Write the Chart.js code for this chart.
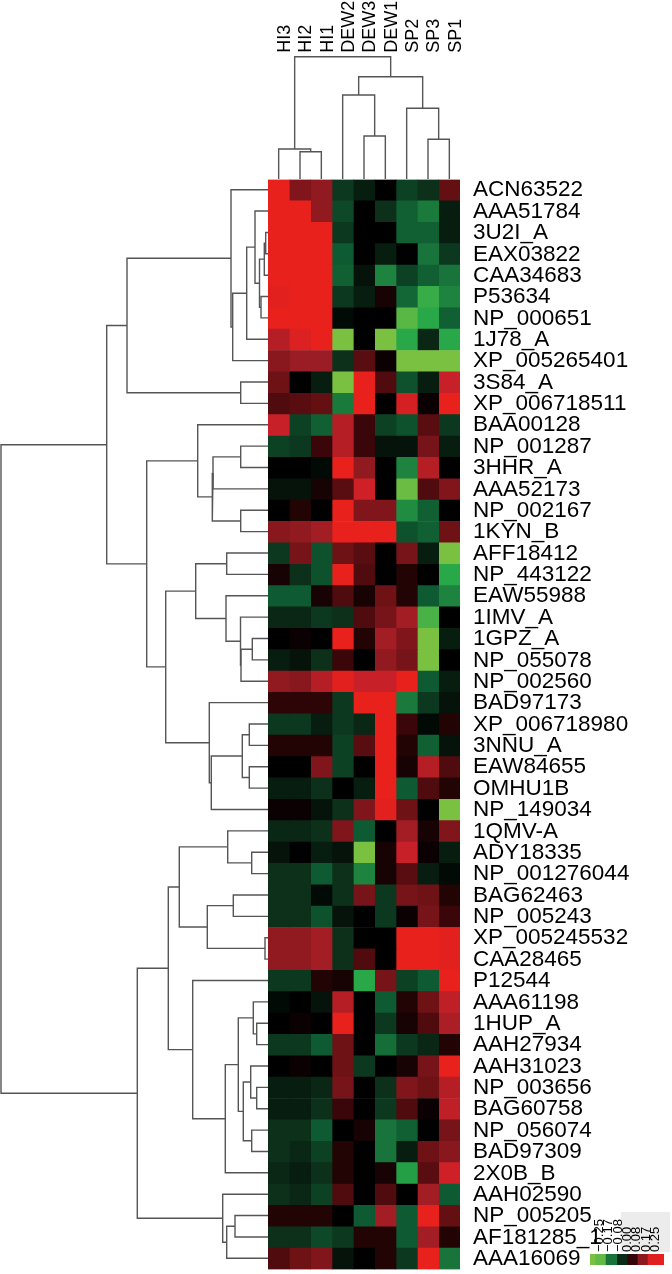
<!DOCTYPE html>
<html><head><meta charset="utf-8">
<script src="https://cdn.jsdelivr.net/npm/chart.js@4.4.1/dist/chart.umd.min.js"></script>
<style>
html,body{margin:0;padding:0;background:#fff;width:672px;height:1274px;overflow:hidden;position:relative;}
canvas{position:absolute;}
#keybg{position:absolute;left:621px;top:1212px;width:49px;height:40px;background:#ececec;}
</style></head><body>
<div id="keybg"></div>
<canvas id="rowDendro" width="290" height="1130" style="left:0;top:159px"></canvas>
<canvas id="colDendro" width="232" height="182" style="left:248px;top:0"></canvas>
<canvas id="heat" width="424" height="1130" style="left:248px;top:159px"></canvas>
<canvas id="key" width="102" height="74" style="left:570px;top:1196px"></canvas>
<script>
const colLabels = ['HI3','HI2','HI1','DEW2','DEW3','DEW1','SP2','SP3','SP1'];
const rowLabels = ['ACN63522','AAA51784','3U2I_A','EAX03822','CAA34683','P53634','NP_000651','1J78_A','XP_005265401','3S84_A',
'XP_006718511','BAA00128','NP_001287','3HHR_A','AAA52173','NP_002167','1KYN_B','AFF18412','NP_443122','EAW55988',
'1IMV_A','1GPZ_A','NP_055078','NP_002560','BAD97173','XP_006718980','3NNU_A','EAW84655','OMHU1B','NP_149034',
'1QMV-A','ADY18335','NP_001276044','BAG62463','NP_005243','XP_005245532','CAA28465','P12544','AAA61198','1HUP_A',
'AAH27934','AAH31023','NP_003656','BAG60758','NP_056074','BAD97309','2X0B_B','AAH02590','NP_005205','AF181285_1','AAA16069'];

// cell values per column (row order as rowLabels)
const valHI3 = [.25,.25,.25,.25,.25,.24,.25,.18,.13,.10, .07,.20,-.07,0,-.02,0,.13,-.06,.02,-.10, -.04,0,-.03,.14,.04,-.06,.03,0,-.03,.01, -.04,-.02,-.05,-.05,-.05,.14,.14,-.06,-.01,0, -.06,0,-.03,-.03,-.05,-.05,-.04,-.05,.03,-.05, .07];
const valHI2 = [.12,.25,.25,.25,.25,.25,.25,.23,.15,0, .08,-.07,-.06,0,-.02,.03,.14,.11,-.05,-.10, -.04,.01,-.02,.13,.04,-.06,.03,0,-.03,.01, -.04,0,-.05,-.05,-.05,.14,.14,-.06,0,.01, -.06,.01,-.03,-.03,-.05,-.04,-.03,-.04,.03,-.05, .10];
const valHI1 = [.14,.14,.25,.25,.25,.25,.25,.25,.15,-.03, .09,-.11,.05,-.01,.02,0,.16,-.09,-.09,.02, -.06,0,-.05,.18,.04,-.03,.03,.12,-.05,-.02, -.05,-.03,-.10,-.01,-.09,.16,.16,.03,-.02,0, -.10,0,-.04,-.05,-.10,-.07,-.05,-.07,.03,-.08, .12];
const valDEW2 = [-.06,-.08,-.06,-.10,-.11,-.06,-.01,-.25,-.05,-.25, -.15,.18,.18,.25,.08,.25,.25,.10,.25,.07, -.05,.25,.05,.24,-.06,-.06,-.07,-.07,0,-.05, .12,-.02,-.05,-.05,-.02,-.05,-.05,.02,.18,.25, .10,.10,.11,.05,0,.03,.03,.07,0,-.06, -.02];
const valDEW3 = [-.03,0,0,0,-.02,-.03,0,0,.08,.25, .25,.05,.05,.14,.21,.12,.25,.08,.07,.02, .07,.03,0,.20,.25,-.04,.08,0,-.03,.12, -.10,-.25,-.16,.11,0,0,.07,-.20,0,0, 0,-.06,0,0,.02,0,0,0,-.10,.03, 0];
const valDEW1 = [0,-.05,0,-.03,-.16,.02,0,-.25,.01,.07, 0,-.07,-.02,0,0,.12,.25,0,0,.10, .11,.16,.14,.20,.25,.25,.25,.25,.25,.24, 0,.02,.02,-.06,-.06,0,0,.11,-.10,-.06, -.13,0,-.05,-.06,-.14,-.14,.02,.07,.16,.03, .03];
const valSP2 = [-.07,-.11,-.11,0,-.07,-.12,-.23,-.20,-.25,-.09, .22,-.09,-.02,-.16,-.24,-.17,-.09,.11,.03,.03, .16,.12,.11,.25,-.15,.05,.03,.02,-.10,.10, .16,.20,.08,.11,.01,.25,.25,-.07,.03,.02, -.06,.02,.12,.07,-.11,-.03,-.19,0,-.10,-.10, -.06];
const valSP3 = [-.05,-.15,-.11,-.14,-.11,-.21,-.20,-.04,-.25,-.03, .01,.08,.11,.18,.07,-.11,-.11,-.03,0,-.10, -.22,-.25,-.25,-.10,-.06,-.01,-.11,.18,.07,0, .02,.01,-.03,.10,.11,.25,.25,-.10,.10,.07, -.04,.11,.10,.01,0,.10,.08,.16,.25,.16, .25];
const valSP1 = [.09,-.03,-.03,-.06,-.14,-.16,-.11,-.20,-.25,.20, .25,-.06,-.03,0,.12,0,.10,-.25,-.20,-.16, 0,-.03,0,-.03,-.02,.03,-.02,.07,.03,-.25, .12,-.03,-.01,.03,.05,.24,.24,.25,.19,.17, .03,.25,.18,.19,.11,.13,.21,-.10,.09,.03, -.14];

// row dendrogram (hclust style merge: negative = leaf, positive = earlier merge)
const rowMergeA = [-3,1,-6,2,-2,5,6,-1,-10,8, -13,11,-16,12,-12,-18,-22,17,-21,-20, 16,-26,-28,22,24,-25,21,15,10,-32, -31,-34,-36,32,31,-40,-39,-43,-42,-45, 39,37,42,-38,35,-49,46,-48,45,29];
const rowMergeB = [-4,-5,-7,3,4,-8,-9,7,-11,9, -14,-15,-17,13,14,-19,-23,-24,18,19, 20,-27,-29,23,-30,25,26,27,28,-33, 30,-35,-37,33,34,-41,36,-44,38,-46, 40,41,-47,43,44,-50,-51,47,48,49];
const rowMergeH = [.023,.037,.07,.085,.13,.213,.353,.37,.273,1.41, .273,.55,.273,.557,.703,.413,.157,.27,.275,.42, .723,.187,.187,.257,.567,.587,1.023,1.213,1.613,.163, .403,.347,.03,.607,.887,.113,.147,.113,.173,.163, .247,.297,.427,.753,.997,.33,.413,.453,1.307,2.67];

// column dendrogram
const colMergeA = [-2,-1,-5,-4,-8,-7,4,2];
const colMergeB = [-3,1,-6,3,-9,5,6,7];
const colMergeH = [.273,.30,.43,.84,.397,.707,1.023,1.223];

// colour key
const keyTicks = [-0.25,-0.17,-0.08,0,0.08,0.17,0.25];
const keyBins = [-0.325,-0.28,-0.19,-0.09,0,0.09,0.18,0.29,0.325];

const colValues = [valHI3,valHI2,valHI1,valDEW2,valDEW3,valDEW1,valSP2,valSP3,valSP1];

const posStops = [[0,[0,0,0]],[0.05,[58,6,9]],[0.1,[110,18,22]],[0.15,[154,28,36]],[0.2,[200,32,40]],[0.25,[232,33,28]]];
const negStops = [[0,[0,0,0]],[0.05,[12,48,26]],[0.1,[14,90,50]],[0.15,[26,122,60]],[0.2,[40,168,72]],[0.25,[122,193,66]]];
function colorFor(v){
  const st = v >= 0 ? posStops : negStops;
  const a = Math.min(Math.abs(v), 0.25);
  for (let i=1;i<st.length;i++){
    if (a <= st[i][0]){
      const t = (a - st[i-1][0])/(st[i][0]-st[i-1][0]);
      const c = st[i-1][1].map((x,k)=>Math.round(x + (st[i][1][k]-x)*t));
      return 'rgb('+c.join(',')+')';
    }
  }
  return 'rgb('+st[st.length-1][1].join(',')+')';
}

function dendro(mA, mB, mH){
  const pos = [], segs = [];
  const P = r => r < 0 ? -r-1 : pos[r-1];
  const H = r => r < 0 ? 0 : mH[r-1];
  for (let k=0;k<mA.length;k++){
    const a = mA[k], b = mB[k], h = mH[k];
    const pa = P(a), pb = P(b);
    pos.push((pa+pb)/2);
    segs.push([[pa,H(a)],[pa,h],[pb,h],[pb,H(b)]]);
  }
  return segs;
}
const lineStyle = {showLine:true, pointRadius:0, borderColor:'#555555', borderWidth:1.4, tension:0, clip:false, fill:false};
const noPlug = {legend:{display:false}, tooltip:{enabled:false}};

// row dendrogram
new Chart(document.getElementById('rowDendro'), {
  type:'scatter',
  data:{datasets: dendro(rowMergeA,rowMergeB,rowMergeH).map(s => Object.assign({data:s.map(p=>({x:p[1], y:p[0]}))}, lineStyle))},
  options:{responsive:false, animation:false, plugins:noPlug,
    layout:{padding:{left:1,right:22,top:20,bottom:20}},
    scales:{x:{type:'linear', min:0, max:2.67, reverse:true, display:false},
            y:{type:'linear', min:-0.5, max:rowLabels.length-0.5, reverse:true, display:false}}}
});

// column dendrogram with column labels
new Chart(document.getElementById('colDendro'), {
  type:'scatter',
  data:{datasets: dendro(colMergeA,colMergeB,colMergeH).map(s => Object.assign({data:s.map(p=>({x:p[0], y:p[1]}))}, lineStyle))},
  options:{responsive:false, animation:false, plugins:noPlug,
    layout:{padding:{left:20,right:20,top:0,bottom:3}},
    scales:{x:{type:'linear', min:-0.5, max:colLabels.length-0.5, display:false},
            y:{type:'linear', min:0, max:1.223, display:false},
            lab:{type:'category', labels:colLabels, position:'top', offset:true,
                 grid:{display:false, drawTicks:false}, border:{display:false},
                 ticks:{autoSkip:false, minRotation:90, maxRotation:90, padding:4, labelOffset:28, color:'#000',
                        font:{family:'Liberation Sans', size:18}},
                 afterFit(s){ s.height = 56.7; }}}}
});

// heatmap
const heatCanvas = document.getElementById('heat');
function heatConfig(){
  return {
  type:'bar',
  data:{labels:rowLabels,
    datasets: colLabels.map((c,j)=>({label:c, data: rowLabels.map(()=>[j,j+1]),
      backgroundColor: colValues[j].map(colorFor), borderWidth:0,
      barPercentage:1, categoryPercentage:1, grouped:false}))},
  options:{indexAxis:'y', responsive:false, animation:false, plugins:noPlug,
    layout:{padding:{left:20,right:0,top:20,bottom:20}},
    scales:{x:{type:'linear', min:0, max:colLabels.length, display:false},
            y:{type:'category', position:'right', grid:{display:false, drawTicks:false}, border:{display:false},
               ticks:{autoSkip:false, padding:13, color:'#000', font:{family:'Liberation Sans', size:22.5}},
               afterFit(s){ s.width = 212; }}}}
  };
}
let heat = new Chart(heatCanvas, heatConfig());
{
  const ca = heat.chartArea;
  const extraTop = ca.top, extraBot = heatCanvas.height - ca.bottom;
  heat.destroy();
  heatCanvas.height = Math.round(extraTop + 1090 + extraBot);
  heatCanvas.style.top = (179 - extraTop) + 'px';
  heat = new Chart(heatCanvas, heatConfig());
}

// colour key
const keyColors = [];
for (let i=0;i<keyBins.length-1;i++) keyColors.push(colorFor((keyBins[i]+keyBins[i+1])/2));
new Chart(document.getElementById('key'), {
  type:'bar',
  data:{labels:['key'],
    datasets: keyColors.map((c,i)=>({data:[[keyBins[i],keyBins[i+1]]], backgroundColor:c, borderWidth:0,
      barPercentage:1, categoryPercentage:1, grouped:false}))},
  options:{indexAxis:'y', responsive:false, animation:false, plugins:noPlug,
    layout:{padding:{left:20,right:8,top:0,bottom:5}},
    scales:{x:{type:'linear', min:keyBins[0], max:keyBins[keyBins.length-1], position:'top',
               grid:{display:false, drawTicks:false}, border:{display:false},
               afterBuildTicks(s){ s.ticks = keyTicks.map(v=>({value:v})); },
               ticks:{autoSkip:false, minRotation:90, maxRotation:90, padding:2, labelOffset:16, color:'#000',
                      font:{family:'Liberation Sans', size:13},
                      callback:(v)=> (v<0?'\u2212':'') + Math.abs(v).toFixed(2)},
               afterFit(s){ s.height = 58; }},
            y:{display:false}}}
});
</script>
</body></html>
